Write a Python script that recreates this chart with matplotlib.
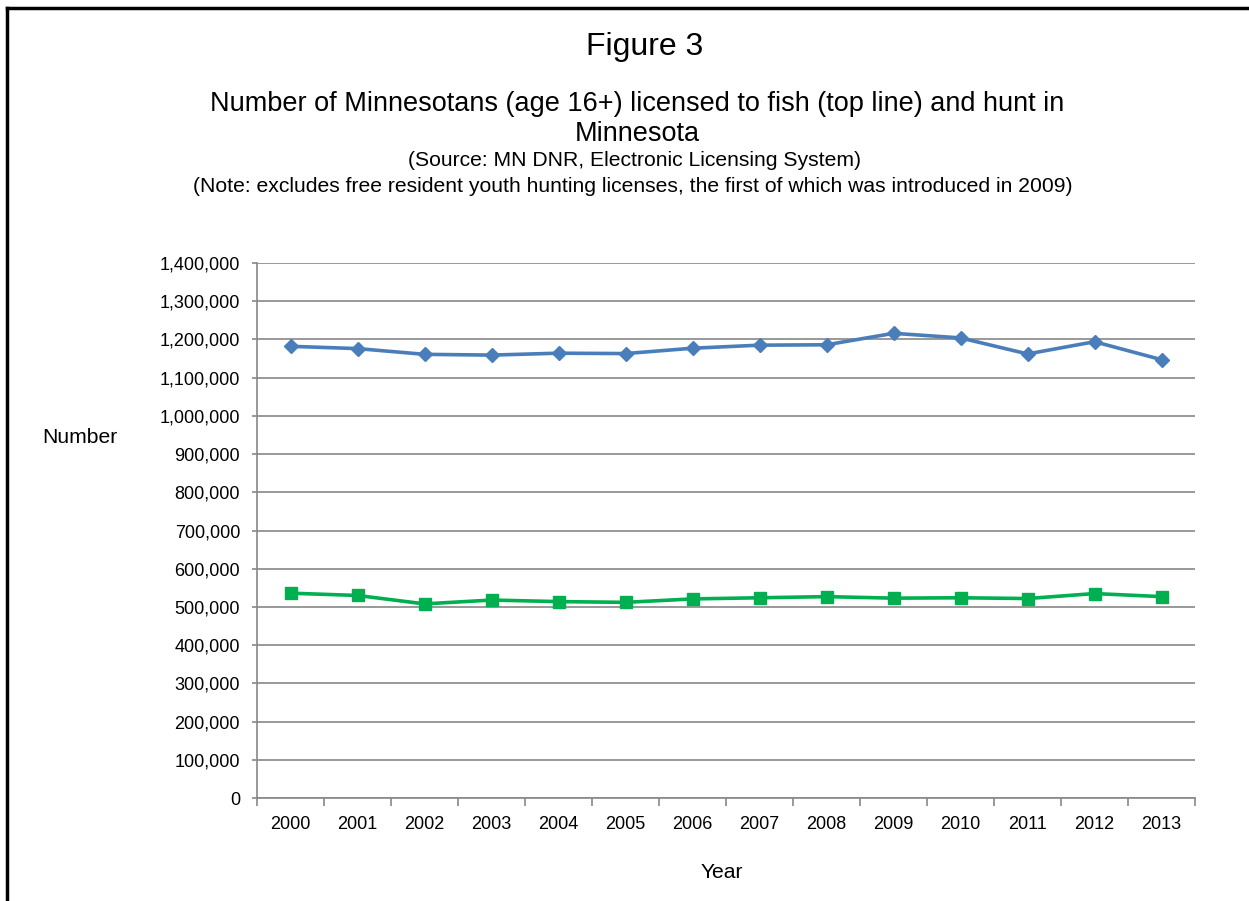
import numpy as np
import matplotlib
matplotlib.use("Agg")
import matplotlib.pyplot as plt
from matplotlib.lines import Line2D
from matplotlib.ticker import FuncFormatter, FixedLocator

plt.rcParams['font.family'] = ['Liberation Sans', 'DejaVu Sans']

#  data
years = ['2000', '2001', '2002', '2003', '2004', '2005', '2006',
         '2007', '2008', '2009', '2010', '2011', '2012', '2013']
fish = [1182000, 1176000, 1161000, 1159000, 1164000, 1163000, 1177000,
        1185000, 1186000, 1216000, 1204000, 1162000, 1194000, 1147000]
hunt = [536000, 530000, 508000, 518000, 514000, 512000, 521000,
        524000, 527000, 523000, 524000, 522000, 535000, 527000]

grid_col = '#888888'

fig = plt.figure(figsize=(12.49, 9.01), dpi=100)
ax = fig.add_axes([0.2058, 0.1143, 0.7510, 0.5938])

x = np.arange(len(years))
ax.plot(x, fish, color='#4a7ebb', linewidth=2.6, marker='D', markersize=7,
        zorder=3)
ax.plot(x, hunt, color='#00b050', linewidth=2.6, marker='s', markersize=8,
        zorder=3)

ax.set_xlim(-0.5, len(years) - 0.5)
ax.set_ylim(0, 1400000)
ax.set_yticks(np.arange(0, 1400001, 100000))
ax.yaxis.set_major_formatter(FuncFormatter(lambda v, p: '{:,.0f}'.format(v)))
ax.grid(axis='y', color=grid_col, linewidth=1.2)
ax.set_axisbelow(True)

#  category labels between tick marks, tick marks at boundaries
ax.set_xticks(x)
ax.set_xticklabels(years)
ax.xaxis.set_minor_locator(FixedLocator(np.arange(-0.5, len(years), 1.0)))
ax.tick_params(axis='x', which='major', length=0, pad=13, labelsize=13)
ax.tick_params(axis='x', which='minor', length=6, width=1.2, color=grid_col,
               direction='out')
ax.tick_params(axis='y', length=3.6, width=1.2, color=grid_col, pad=8.6,
               labelsize=13)

for s in ['top', 'right']:
    ax.spines[s].set_visible(False)
for s in ['left', 'bottom']:
    ax.spines[s].set_color(grid_col)
    ax.spines[s].set_linewidth(1.2)

#  titles and labels
fig.text(0.516, 1 - 47 / 901, 'Figure 3', ha='center', va='center',
         fontsize=23)
fig.text(0.510, 1 - 104 / 901,
         'Number of Minnesotans (age 16+) licensed to fish (top line) and hunt in',
         ha='center', va='center', fontsize=19.5)
fig.text(0.510, 1 - 134 / 901, 'Minnesota', ha='center', va='center',
         fontsize=19.5)
fig.text(0.508, 1 - 160 / 901, '(Source: MN DNR, Electronic Licensing System)',
         ha='center', va='center', fontsize=15.2)
fig.text(0.507, 1 - 187 / 901,
         '(Note: excludes free resident youth hunting licenses, the first of which was introduced in 2009)',
         ha='center', va='center', fontsize=15.2)
fig.text(80 / 1249, 1 - 437 / 901, 'Number', ha='center', va='center',
         fontsize=15.2)
fig.text(722 / 1249, 1 - 873 / 901, 'Year', ha='center', va='center',
         fontsize=15.2)

#  border of the chart object (left and top edges visible)
fig.add_artist(Line2D([7 / 1249, 7 / 1249], [0, 1 - 8 / 901],
                      color='black', linewidth=2.5))
fig.add_artist(Line2D([7 / 1249, 1], [1 - 8 / 901, 1 - 8 / 901],
                      color='black', linewidth=2.5))

fig.savefig('out.png', dpi=100)
